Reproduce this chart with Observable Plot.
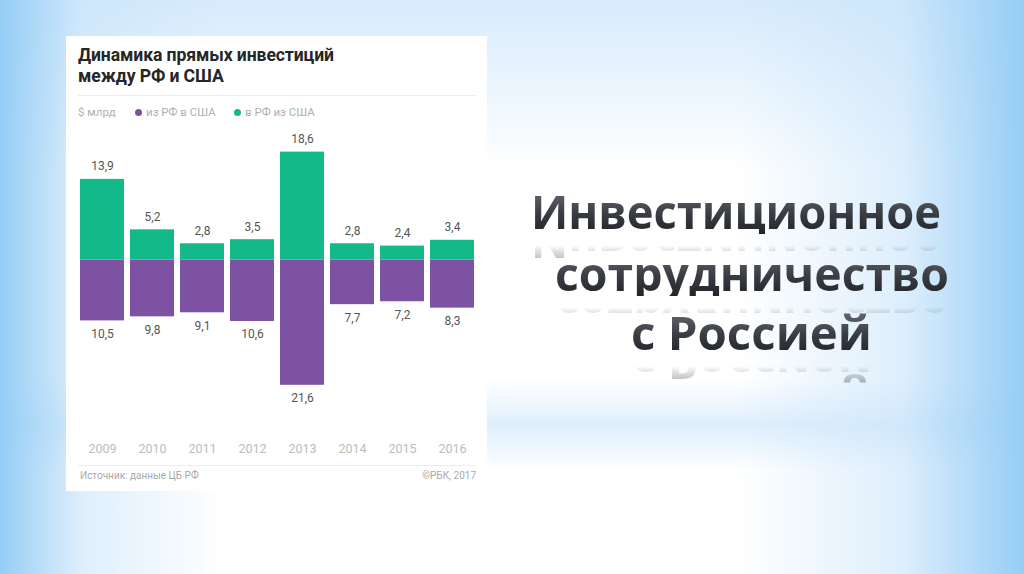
<!DOCTYPE html>
<html>
<head>
<meta charset="utf-8">
<script src="https://cdn.jsdelivr.net/npm/d3@7"></script>
<script src="https://cdn.jsdelivr.net/npm/@observablehq/plot@0.6"></script>
<style>
  html, body { margin: 0; padding: 0; }
  body {
    width: 1024px; height: 574px; overflow: hidden; position: relative;
    background:
      linear-gradient(to right, rgba(150,205,245,1) 0%, rgba(200,228,250,0.6) 8%, rgba(255,255,255,0) 22%, rgba(255,255,255,0) 72%, rgba(200,228,250,0.6) 88%, rgba(150,205,245,1) 100%),
      linear-gradient(to bottom, rgba(215,235,252,1) 0%, rgba(255,255,255,0) 30%, rgba(255,255,255,0) 66%, rgba(215,235,252,0.8) 74%, rgba(255,255,255,0) 82%, rgba(255,255,255,0) 100%),
      #ffffff;
    font-family: Roboto, "Noto Sans", sans-serif;
  }
  #panel {
    position: absolute; left: 66px; top: 36px; width: 421px; height: 455px;
    background: #ffffff;
  }
  #ptitle {
    position: absolute; left: 12px; top: 9px; font-size: 17.6px; font-weight: 700;
    line-height: 21px; color: #262626; letter-spacing: -0.1px;
  }
  .rule { position: absolute; left: 12px; width: 398px; height: 1px; background: #ececec; }
  #legend {
    position: absolute; left: 12px; top: 69px; font-size: 11.5px; color: #b0b0b0;
    line-height: 14px; white-space: nowrap;
  }
  #legend span.item { position: absolute; top: 0; white-space: nowrap; }
  #legend .dot { display: inline-block; width: 7px; height: 7px; border-radius: 50%; margin-right: 4px; vertical-align: 0px; }
  #chart { position: absolute; left: 0; top: 89px; }
  #footer { position: absolute; left: 14px; right: 11px; top: 434px; font-size: 10px; color: #a8a8a8; }
  #footer .r { position: absolute; right: 0; top: 0; }
  .big {
    position: absolute; white-space: nowrap; font-family: "Open Sans", "Noto Sans", sans-serif;
    font-weight: 700; font-size: 47px; line-height: 46px; transform-origin: 0 0;
    background: linear-gradient(to bottom, #6a6d74 0%, #3a3d43 55%, #222428 100%);
    -webkit-background-clip: text; background-clip: text; color: transparent;
    -webkit-box-reflect: below -14px linear-gradient(to bottom, rgba(255,255,255,0.6) 0%, rgba(255,255,255,0.3) 22%, rgba(255,255,255,0) 45%);
  }
</style>
</head>
<body>
<div id="panel">
  <div id="ptitle">Динамика прямых инвестиций<br>между РФ и США</div>
  <div class="rule" style="top:59px"></div>
  <div id="legend"></div>
  <div id="chart"></div>
  <div class="rule" style="top:429px"></div>
  <div id="footer"><span>Источник: данные ЦБ РФ</span><span class="r">©РБК, 2017</span></div>
</div>
<div class="big" id="t1">Инвестиционное</div>
<div class="big" id="t2">сотрудничество</div>
<div class="big" id="t3">с Россией</div>
<script>
// ---- data ----
const years = ["2009", "2010", "2011", "2012", "2013", "2014", "2015", "2016"];
const fromRussiaToUSA = [10.5, 9.8, 9.1, 10.6, 21.6, 7.7, 7.2, 8.3];   // из РФ в США
const toRussiaFromUSA = [13.9, 5.2, 2.8, 3.5, 18.6, 2.8, 2.4, 3.4];    // в РФ из США
const seriesNames = ["из РФ в США", "в РФ из США"];
const unitLabel = "$ млрд";

const purple = "#7d52a2";
const green = "#14b98a";

const data = years.map((y, i) => ({year: y, out: fromRussiaToUSA[i], inn: toRussiaFromUSA[i]}));
const fmt = v => String(v).replace(".", ",");

// legend
const legend = document.getElementById("legend");
legend.innerHTML =
  `<span class="item" style="left:0">${unitLabel}</span>` +
  `<span class="item" style="left:57px"><span class="dot" style="background:${purple}"></span>${seriesNames[0]}</span>` +
  `<span class="item" style="left:156px"><span class="dot" style="background:${green}"></span>${seriesNames[1]}</span>`;

const chart = Plot.plot({
  width: 421,
  height: 345,
  marginTop: 0, marginBottom: 30, marginLeft: 0, marginRight: 0,
  style: {background: "transparent", fontFamily: "Roboto, sans-serif", overflow: "visible"},
  x: {domain: years, range: [9.2, 412], paddingInner: 0.125, paddingOuter: 0.0625},
  y: {domain: [-25, 23.19], range: [279.5, 0], axis: null},
  marks: [
    Plot.barY(data, {x: "year", y: d => -d.out, fill: purple}),
    Plot.barY(data, {x: "year", y: "inn", fill: green}),
    Plot.text(data, {x: "year", y: "inn", text: d => fmt(d.inn), dy: -13, fill: "#555", fontSize: 12}),
    Plot.text(data, {x: "year", y: d => -d.out, text: d => fmt(d.out), dy: 13, fill: "#555", fontSize: 12}),
    Plot.axisX({tickSize: 0, tickPadding: 4, fontSize: 12.5, color: "#bcbcbc", label: null})
  ]
});
document.getElementById("chart").appendChild(chart);

// right-side title placement
const lines = [
  {id: "t1", left: 531, right: 941, baseline: 229},
  {id: "t2", left: 555, right: 949, baseline: 291},
  {id: "t3", left: 631, right: 872, baseline: 350}
];
for (const l of lines) {
  const el = document.getElementById(l.id);
  el.style.left = l.left + "px";
  el.style.top = (l.baseline - 41) + "px";
  const w = el.getBoundingClientRect().width;
  el.style.transform = `scaleX(${(l.right - l.left) / w})`;
}
</script>
</body>
</html>
